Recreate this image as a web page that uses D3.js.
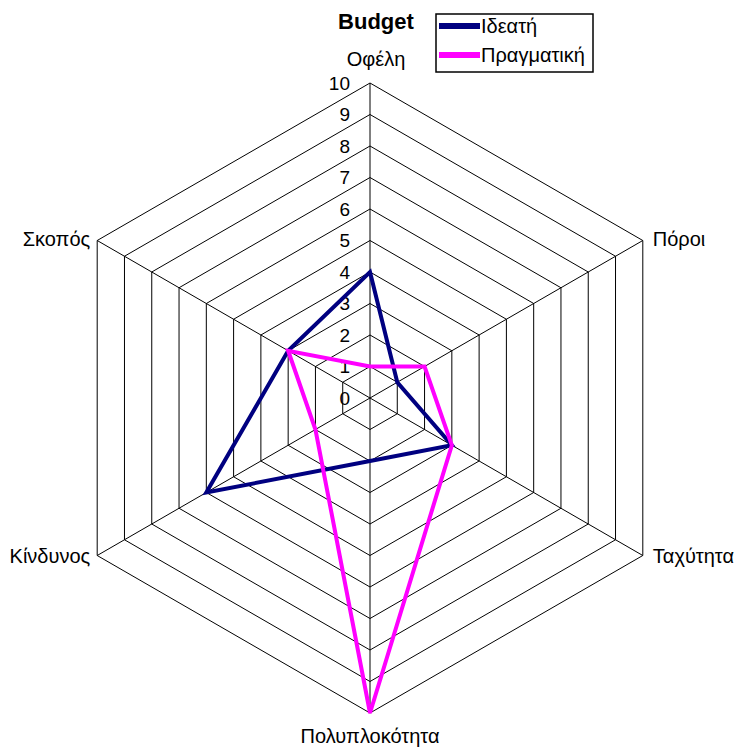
<!DOCTYPE html>
<html>
<head>
<meta charset="utf-8">
<script src="https://cdn.jsdelivr.net/npm/d3@7"></script>
<style>
  body { margin: 0; background: #fff; }
  text { font-family: "Liberation Sans", Arial, sans-serif; }
</style>
</head>
<body>
<svg id="chart" width="739" height="749"></svg>
<script>
const AXES = ['Οφέλη', 'Πόροι', 'Ταχύτητα', 'Πολυπλοκότητα', 'Κίνδυνος', 'Σκοπός'];
const IDEAL = [4, 1, 3, 2, 6, 3];
const ACTUAL = [1, 2, 3, 10, 2, 3];
const TICKS = [0, 1, 2, 3, 4, 5, 6, 7, 8, 9, 10];
const SERIES_NAMES = ['Ιδεατή', 'Πραγματική'];

const CX = 370;
const CY = 398;
const RADIUS = 315;
const NAVY = '#000080';
const MAGENTA = '#ff00ff';

const svg = d3.select('#chart');

const r = d3.scaleLinear().domain([0, 10]).range([0, RADIUS]);
const angle = d3.scaleLinear().domain([0, AXES.length]).range([0, 2 * Math.PI]);

const point = (i, v) => [
  CX + r(v) * Math.sin(angle(i)),
  CY - r(v) * Math.cos(angle(i)),
];

// grid hexagons
const grid = svg.append('g');
TICKS.filter(t => t > 0).forEach(t => {
  grid.append('polygon')
    .attr('points', AXES.map((a, i) => point(i, t).join(',')).join(' '))
    .attr('fill', 'none')
    .attr('stroke', '#000')
    .attr('stroke-width', 1);
});

// spokes
grid.selectAll('.spoke')
  .data(AXES)
.enter()
  .append('line')
  .attr('class', 'spoke')
  .attr('x1', CX)
  .attr('y1', CY)
  .attr('x2', (d, i) => point(i, 10)[0])
  .attr('y2', (d, i) => point(i, 10)[1])
  .attr('stroke', '#000')
  .attr('stroke-width', 1);

// tick labels along top axis
svg.append('g').selectAll('text')
  .data(TICKS)
.enter()
  .append('text')
  .attr('x', CX - 20)
  .attr('y', d => CY - r(d))
  .attr('dy', '0.35em')
  .attr('text-anchor', 'end')
  .attr('font-size', 19)
  .attr('fill', '#000')
  .text(d => d);

// axis labels
const labelPos = [
  { dx: 6, dy: -24, anchor: 'middle' },
  { dx: 10, dy: -2, anchor: 'start' },
  { dx: 10, dy: 0, anchor: 'start' },
  { dx: 0, dy: 23, anchor: 'middle' },
  { dx: -7, dy: 0, anchor: 'end' },
  { dx: -7, dy: -2, anchor: 'end' },
];
svg.append('g').selectAll('text')
  .data(AXES)
.enter()
  .append('text')
  .attr('x', (d, i) => point(i, 10)[0] + labelPos[i].dx)
  .attr('y', (d, i) => point(i, 10)[1] + labelPos[i].dy)
  .attr('dy', '0.35em')
  .attr('text-anchor', (d, i) => labelPos[i].anchor)
  .attr('font-size', 20)
  .text(d => d);

// series
const line = d3.lineRadial()
  .angle((d, i) => angle(i))
  .radius(d => r(d))
  .curve(d3.curveLinearClosed);

const series = [
  { name: SERIES_NAMES[0], values: IDEAL, color: NAVY },
  { name: SERIES_NAMES[1], values: ACTUAL, color: MAGENTA },
];

svg.append('g')
  .attr('transform', `translate(${CX},${CY})`)
  .selectAll('path')
  .data(series)
.enter()
  .append('path')
  .attr('d', d => line(d.values))
  .attr('fill', 'none')
  .attr('stroke', d => d.color)
  .attr('stroke-width', 4)
  .attr('stroke-linejoin', 'miter');

// title
svg.append('text')
  .attr('x', 376)
  .attr('y', 29)
  .attr('text-anchor', 'middle')
  .attr('font-size', 22)
  .attr('font-weight', 'bold')
  .text('Budget');

// legend
const legend = svg.append('g').attr('transform', 'translate(436,14)');
legend.append('rect')
  .attr('width', 157)
  .attr('height', 58)
  .attr('fill', '#fff')
  .attr('stroke', '#000')
  .attr('stroke-width', 1.5);
const item = legend.selectAll('.item')
  .data(series)
.enter()
  .append('g')
  .attr('class', 'item')
  .attr('transform', (d, i) => `translate(0,${12 + i * 29})`);
item.append('line')
  .attr('x1', 3)
  .attr('x2', 44)
  .attr('stroke', d => d.color)
  .attr('stroke-width', 6);
item.append('text')
  .attr('x', 45)
  .attr('dy', '0.35em')
  .attr('font-size', 20)
  .text(d => d.name);
</script>
</body>
</html>
